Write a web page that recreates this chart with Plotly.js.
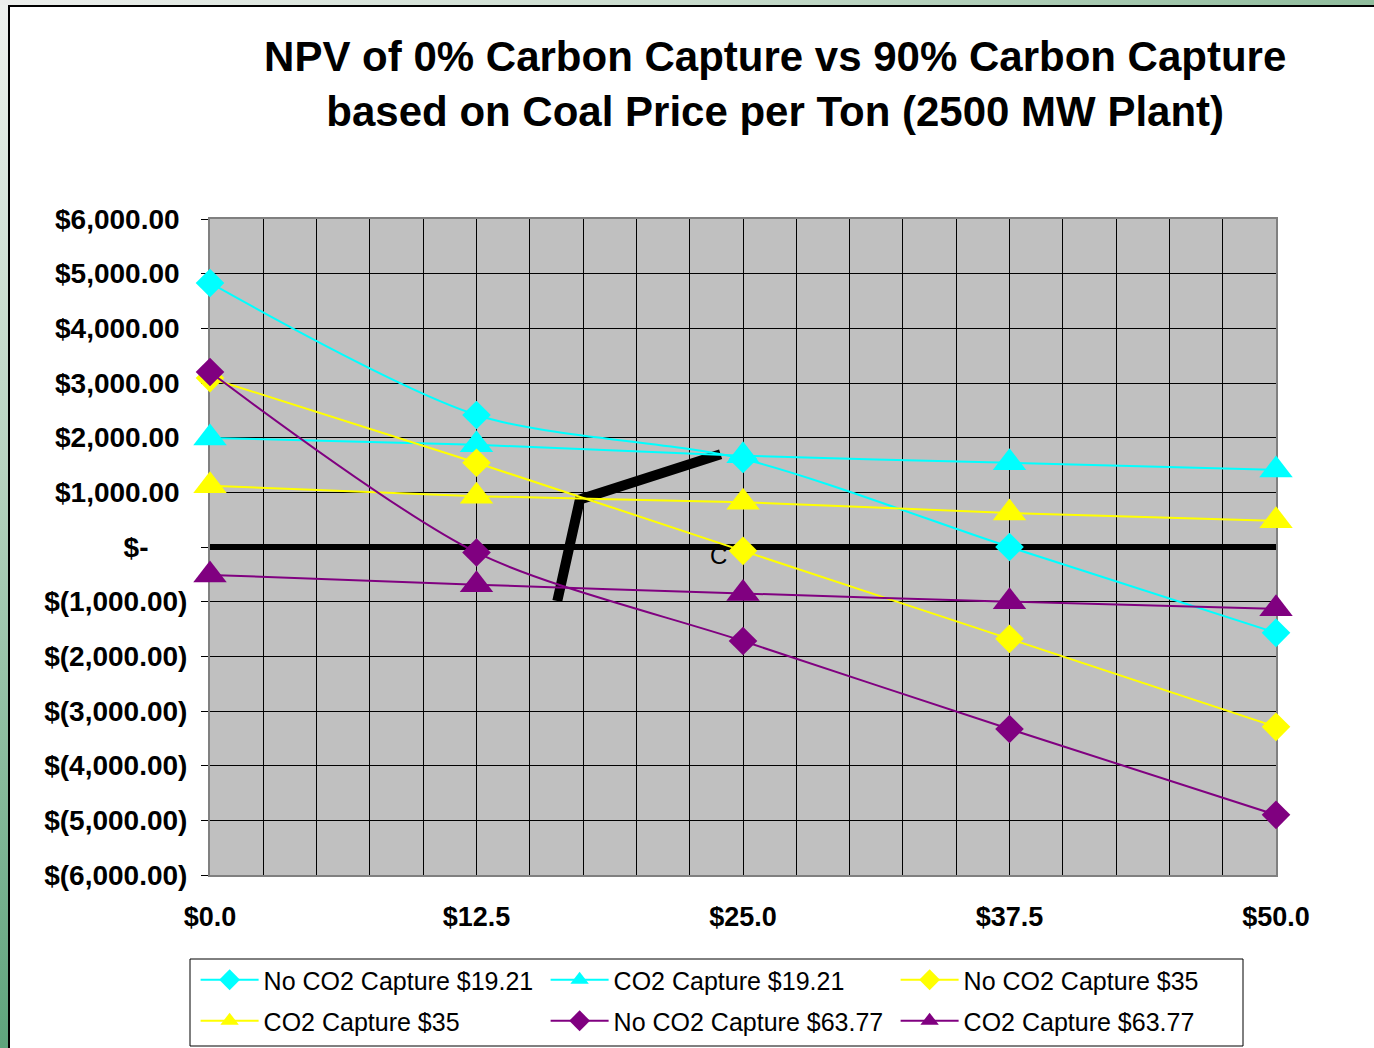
<!DOCTYPE html>
<html>
<head>
<meta charset="utf-8">
<script src="https://cdn.plot.ly/plotly-3.0.1.min.js"></script>
<style>
  html, body { margin: 0; padding: 0; width: 1374px; height: 1048px; overflow: hidden;
    background: linear-gradient(to bottom, #eef1ee 0%, #b6d3bf 45%, #5ea47c 100%); }
  #topstrip { position: absolute; left: 0; top: 0; width: 1374px; height: 5px;
    background: linear-gradient(to right, #eceeec 0%, #c9dccd 50%, #8fbc9c 100%); }
  #frame { position: absolute; left: 8px; top: 5px; width: 1366px; height: 1043px;
    background: #ffffff; border-left: 2px solid #000; border-top: 2px solid #000; box-sizing: border-box; }
  #chart { position: absolute; left: 0; top: 0; width: 1364px; height: 1041px; }
</style>
</head>
<body>
<div id="topstrip"></div>
<div id="frame"><div id="chart"></div></div>
<script>
// Coal price per ton ($)
const coalPrice = [0, 12.5, 25, 37.5, 50];
const xTickLabels = ['$0.0', '$12.5', '$25.0', '$37.5', '$50.0'];

// NPV series
const noCapture1921 = [4830, 2415, 1610, 0, -1570];
const capture1921   = [1995, 1870, 1670, 1540, 1410];
const noCapture35   = [3090, 1540, -70, -1680, -3290];
const capture35     = [1120, 930, 820, 620, 480];
const noCapture6377 = [3200, -100, -1720, -3330, -4900];
const capture6377   = [-510, -690, -850, -1000, -1130];

// Series names
const seriesNames = ['No CO2 Capture $19.21', 'CO2 Capture $19.21', 'No CO2 Capture $35',
                     'CO2 Capture $35', 'No CO2 Capture $63.77', 'CO2 Capture $63.77'];

// Hand-drawn black bent line on the slide
const penX = [16.29, 17.35, 23.95];
const penY = [-988, 870, 1695];

// Y tick values and labels
const yTickVals = [6000, 5000, 4000, 3000, 2000, 1000, 0, -1000, -2000, -3000, -4000, -5000, -6000];
const yTickLabels = ['$6,000.00', '$5,000.00', '$4,000.00', '$3,000.00', '$2,000.00', '$1,000.00', '$-',
  '$(1,000.00)', '$(2,000.00)', '$(3,000.00)', '$(4,000.00)', '$(5,000.00)', '$(6,000.00)'];
const nb = '\u00a0';
const yTickText = yTickLabels.map(t => t === '$-' ? t + nb.repeat(5) : (t.endsWith(')') ? t : t + nb));

const CYAN = '#00FFFF', YELLOW = '#FFFF00', PURPLE = '#800080';
const FONT = 'Liberation Sans, Arial, sans-serif';

function series(y, name, color, symbol, size, legendId) {
  return {
    x: coalPrice, y: y, name: name, type: 'scatter', mode: 'lines+markers',
    line: { color: color, width: 2, shape: 'spline', smoothing: 0.8 },
    marker: { color: color, symbol: symbol, size: size, line: { width: 0 } },
    cliponaxis: false, legend: legendId
  };
}

const data = [
  { x: penX, y: penY, type: 'scatter', mode: 'lines', showlegend: false, hoverinfo: 'skip',
    line: { color: '#000000', width: 10 }, cliponaxis: false },
  series(noCapture1921, seriesNames[0], CYAN, 'diamond', 22, 'legend'),
  series(capture1921, seriesNames[1], CYAN, 'triangle-up', 29, 'legend'),
  series(noCapture35, seriesNames[2], YELLOW, 'diamond', 22, 'legend'),
  series(capture35, seriesNames[3], YELLOW, 'triangle-up', 29, 'legend2'),
  series(noCapture6377, seriesNames[4], PURPLE, 'diamond', 22, 'legend2'),
  series(capture6377, seriesNames[5], PURPLE, 'triangle-up', 29, 'legend2')
];

const legendBase = {
  orientation: 'h', xref: 'paper', yref: 'paper',
  x: -0.0135, xanchor: 'left', yanchor: 'middle',
  bgcolor: 'rgba(0,0,0,0)', borderwidth: 0,
  font: { family: FONT, size: 25, color: '#000000' },
  entrywidth: 277, entrywidthmode: 'pixels', itemwidth: 58,
  traceorder: 'normal'
};

const layout = {
  width: 1364, height: 1041,
  margin: { l: 200, r: 98, t: 212, b: 173, autoexpand: false },
  paper_bgcolor: '#ffffff',
  plot_bgcolor: '#c0c0c0',
  font: { family: FONT, color: '#000000' },
  title: {
    text: 'NPV of 0% Carbon Capture vs 90% Carbon Capture<br>based on Coal Price per Ton (2500 MW Plant)',
    font: { family: FONT, size: 42, weight: 'bold', color: '#000000' },
    xref: 'container', x: 0.561, xanchor: 'center',
    yref: 'container', y: 1 - 64 / 1041, yanchor: 'middle'
  },
  xaxis: {
    range: [0, 50], tickmode: 'array', tickvals: coalPrice, ticktext: xTickLabels,
    tickfont: { family: FONT, size: 27, weight: 'bold' },
    ticks: '', ticklabelstandoff: 17,
    showgrid: true, gridcolor: '#000000', gridwidth: 1,
    minor: { tickmode: 'linear', tick0: 0, dtick: 2.5, showgrid: true, gridcolor: '#000000', gridwidth: 1, ticks: '' },
    showline: true, linecolor: '#808080', linewidth: 2, mirror: true,
    zeroline: false, layer: 'below traces', fixedrange: true
  },
  yaxis: {
    range: [-6000, 6000], tickmode: 'array', tickvals: yTickVals, ticktext: yTickText,
    tickfont: { family: FONT, size: 28, weight: 'bold' },
    ticks: 'outside', ticklen: 7, tickcolor: '#000000', tickwidth: 1, ticklabelstandoff: 8,
    showgrid: true, gridcolor: '#000000', gridwidth: 1,
    zeroline: true, zerolinecolor: '#000000', zerolinewidth: 6,
    showline: true, linecolor: '#808080', linewidth: 2, mirror: true,
    layer: 'below traces', fixedrange: true
  },
  legend: Object.assign({}, legendBase, { y: (868 - 973) / 656 }),
  legend2: Object.assign({}, legendBase, { y: (868 - 1014) / 656 }),
  shapes: [
    { type: 'rect', xref: 'paper', yref: 'paper',
      x0: (180 - 200) / 1066, x1: (1233 - 200) / 1066,
      y0: (868 - 952) / 656, y1: (868 - 1039) / 656,
      line: { color: '#000000', width: 1 }, fillcolor: 'rgba(0,0,0,0)', layer: 'below' }
  ],
  annotations: [
    { x: 23.83, y: -150, xref: 'x', yref: 'y', text: 'C', showarrow: false,
      font: { family: FONT, size: 24, color: '#000000' } }
  ],
  showlegend: true,
  hovermode: false
};

Plotly.newPlot('chart', data, layout, { displayModeBar: false, staticPlot: true });
</script>
</body>
</html>
